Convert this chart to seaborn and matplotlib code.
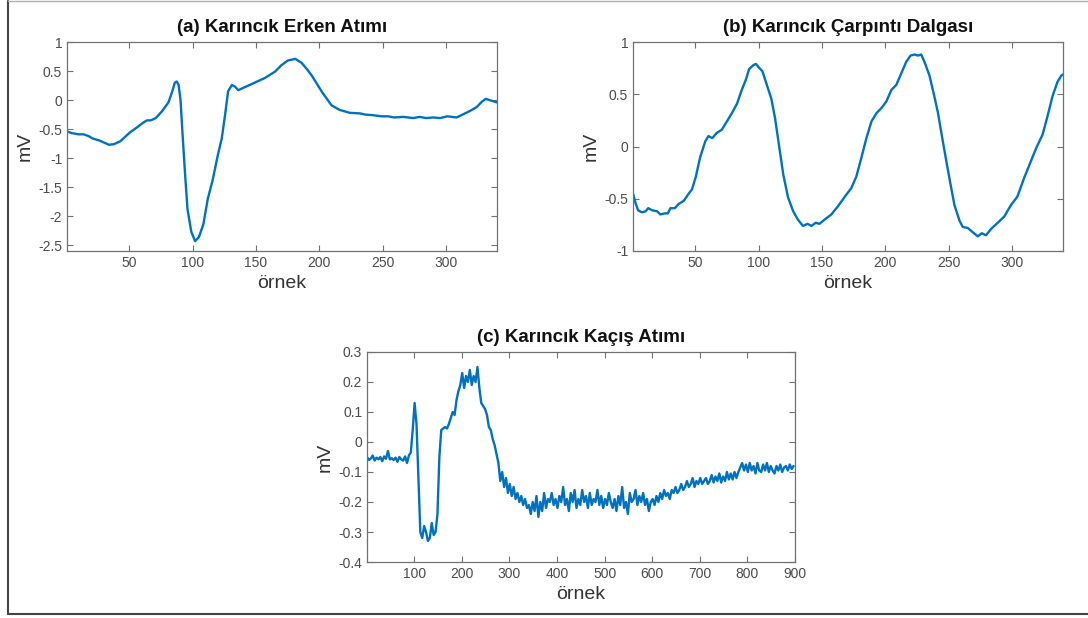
import numpy as np
import matplotlib
matplotlib.use('Agg')
import matplotlib.pyplot as plt
import seaborn as sns
from matplotlib.lines import Line2D
from matplotlib.ticker import FuncFormatter

# ---------------- data ----------------
titles = ["(a) Karıncık Erken Atımı", "(b) Karıncık Çarpıntı Dalgası", "(c) Karıncık Kaçış Atımı"]
x_label = "örnek"
y_label = "mV"

# (a) premature ventricular beat
xa = [1, 5, 10, 14, 18, 21, 27, 31, 34, 38, 43, 47, 51, 55, 61, 64, 67, 71, 76, 81,
      84, 86, 87.5, 89, 90.5, 92, 94, 96, 99, 102, 105, 108.5, 112, 115.6, 120, 123,
      125.6, 128, 131, 133.5, 136, 141, 149, 157, 165, 170, 175, 181, 186, 191, 194,
      202, 209.5, 216, 224, 232, 236, 242, 249, 254, 259, 266, 274, 279, 284, 290,
      295, 301, 308, 312, 318.5, 324, 328, 331, 334, 337, 340]
ya = [-0.54, -0.57, -0.59, -0.59, -0.62, -0.66, -0.70, -0.74, -0.77, -0.76, -0.71,
      -0.63, -0.55, -0.49, -0.39, -0.35, -0.35, -0.31, -0.19, -0.04,
      0.15, 0.30, 0.32, 0.26, 0.0, -0.55, -1.25, -1.88, -2.27, -2.43, -2.36, -2.14,
      -1.70, -1.40, -0.94, -0.66, -0.26, 0.15, 0.26, 0.23, 0.17, 0.22, 0.30, 0.38,
      0.49, 0.60, 0.68, 0.71, 0.64, 0.51, 0.42, 0.14, -0.09, -0.17, -0.22, -0.23,
      -0.25, -0.26, -0.28, -0.28, -0.30, -0.29, -0.31, -0.29, -0.31, -0.30, -0.31,
      -0.28, -0.30, -0.26, -0.19, -0.12, -0.03, 0.02, 0.0, -0.02, -0.04]

# (b) ventricular flutter
xb = [1, 3, 5, 8, 11, 13, 16, 20, 22.5, 26, 28.5, 30.5, 34, 37, 41, 45, 47.5, 50.5,
      54, 58, 60.5, 63.5, 67, 71, 75, 79, 83, 86.7, 90, 92.5, 96, 98, 100, 103, 106.5,
      110, 113, 116, 119.5, 123.3, 127.3, 131, 135, 138.6, 141.7, 145, 148, 152,
      157.4, 162.7, 168, 173, 177, 181, 185, 189, 193, 197, 200.7, 204.6, 208.6,
      212.5, 216.4, 219.8, 223, 225.6, 228.2, 230.8, 234.7, 238, 241.3, 244.4, 248,
      251.3, 254.4, 258.4, 261, 265, 268.8, 272.8, 276, 279.3, 283.2, 288.5, 293.7,
      299, 304, 309.4, 314.7, 319.4, 323.8, 327.8, 331.7, 335.7, 338.8, 340]
yb = [-0.45, -0.54, -0.61, -0.63, -0.62, -0.59, -0.61, -0.62, -0.65, -0.64, -0.64,
      -0.59, -0.59, -0.55, -0.52, -0.45, -0.41, -0.29, -0.10, 0.05, 0.10, 0.08, 0.13,
      0.16, 0.24, 0.32, 0.41, 0.54, 0.64, 0.74, 0.78, 0.79, 0.76, 0.72, 0.59, 0.46,
      0.27, 0.02, -0.27, -0.49, -0.62, -0.70, -0.76, -0.74, -0.76, -0.73, -0.74,
      -0.70, -0.65, -0.57, -0.48, -0.40, -0.29, -0.11, 0.08, 0.24, 0.32, 0.37, 0.43,
      0.54, 0.59, 0.70, 0.81, 0.87, 0.88, 0.87, 0.88, 0.81, 0.68, 0.51, 0.33, 0.11,
      -0.14, -0.36, -0.56, -0.71, -0.77, -0.78, -0.82, -0.86, -0.83, -0.85, -0.79,
      -0.73, -0.67, -0.56, -0.48, -0.30, -0.14, 0.00, 0.11, 0.29, 0.48, 0.62, 0.68,
      0.69]

# (c) ventricular escape beat (sample index every 4 samples)
xc = list(range(1, 901, 4))
yc = [
    # 1 .. 89
    -0.050, -0.060, -0.055, -0.045, -0.062, -0.052, -0.058, -0.050, -0.064, -0.048,
    -0.056, -0.030, -0.058, -0.054, -0.060, -0.052, -0.066, -0.050, -0.058, -0.062,
    -0.048, -0.070, -0.045,
    # 93 .. 301
    -0.035, 0.04, 0.13, 0.06, -0.12, -0.30, -0.32, -0.28, -0.30, -0.33,
    -0.32, -0.27, -0.31, -0.30, -0.24, -0.05, 0.04, 0.045, 0.05, 0.045,
    0.06, 0.08, 0.10, 0.09, 0.14, 0.17, 0.19, 0.23, 0.18, 0.22,
    0.20, 0.24, 0.19, 0.22, 0.20, 0.25, 0.18, 0.13, 0.12, 0.11,
    0.09, 0.05, 0.04, 0.01, -0.01, -0.04, -0.07, -0.13, -0.10, -0.15,
    -0.12, -0.17, -0.14,
    # 305 .. 597
    -0.18, -0.15, -0.19, -0.17, -0.20, -0.18, -0.21, -0.19, -0.22, -0.21,
    -0.24, -0.20, -0.23, -0.18, -0.25, -0.20, -0.23, -0.17, -0.22, -0.19,
    -0.20, -0.17, -0.21, -0.19, -0.22, -0.18, -0.20, -0.15, -0.21, -0.19,
    -0.23, -0.17, -0.20, -0.16, -0.22, -0.19, -0.21, -0.16, -0.20, -0.18,
    -0.22, -0.17, -0.21, -0.19, -0.20, -0.16, -0.21, -0.18, -0.22, -0.19,
    -0.21, -0.17, -0.20, -0.22, -0.19, -0.23, -0.18, -0.21, -0.15, -0.22,
    -0.20, -0.24, -0.17, -0.20, -0.19, -0.16, -0.21, -0.18, -0.20, -0.17,
    -0.21, -0.19, -0.23, -0.20,
    # 601 .. 717
    -0.19, -0.21, -0.18, -0.20, -0.17, -0.19, -0.16, -0.18, -0.17, -0.19,
    -0.16, -0.17, -0.15, -0.17, -0.16, -0.14, -0.16, -0.15, -0.13, -0.15,
    -0.14, -0.12, -0.15, -0.13, -0.14, -0.12, -0.14, -0.13, -0.12, -0.14,
    # 721 .. 897
    -0.13, -0.11, -0.135, -0.115, -0.13, -0.105, -0.135, -0.115, -0.13, -0.10,
    -0.125, -0.105, -0.125, -0.10, -0.12, -0.10, -0.085, -0.07, -0.095, -0.075,
    -0.10, -0.07, -0.095, -0.08, -0.105, -0.07, -0.095, -0.10, -0.075, -0.095,
    -0.07, -0.10, -0.08, -0.095, -0.105, -0.08, -0.095, -0.075, -0.10, -0.085,
    -0.08, -0.095, -0.075, -0.09, -0.08,
]
assert len(xc) == len(yc)

xticks_ab = [50, 100, 150, 200, 250, 300]
xticks_c = [100, 200, 300, 400, 500, 600, 700, 800, 900]
yticks_a = [-2.5, -2, -1.5, -1, -0.5, 0, 0.5, 1]
yticks_b = [-1, -0.5, 0, 0.5, 1]
yticks_c = [-0.4, -0.3, -0.2, -0.1, 0, 0.1, 0.2, 0.3]

# ---------------- style ----------------
sns.set_style('white')
plt.rcParams['font.family'] = ['Liberation Sans', 'DejaVu Sans']
plt.rcParams['axes.unicode_minus'] = False

LINE = '#0072BD'
W, H = 1088, 618
fig = plt.figure(figsize=(W / 100, H / 100), dpi=100)


def add_ax(l, t, r, b):
    return fig.add_axes([l / W, 1 - b / H, (r - l) / W, (b - t) / H])


def style(ax, title, xlim, ylim, xt, yt):
    ax.set_xlim(*xlim)
    ax.set_ylim(*ylim)
    ax.set_xticks(xt)
    ax.set_yticks(yt)
    ax.yaxis.set_major_formatter(FuncFormatter(lambda v, p: f'{v:g}'))
    ax.xaxis.set_major_formatter(FuncFormatter(lambda v, p: f'{v:g}'))
    for s in ax.spines.values():
        s.set_color('#707070')
        s.set_linewidth(0.9)
        s.set_visible(True)
    ax.tick_params(direction='in', length=4, width=0.8, colors='#707070',
                   labelcolor='#4a4a4a', labelsize=10,
                   top=True, right=True, bottom=True, left=True,
                   labeltop=False, labelright=False)
    ax.set_title(title, fontsize=13.5, fontweight='bold', color='#111111', pad=7)
    ax.set_xlabel(x_label, fontsize=14, color='#333333', labelpad=4)
    ax.set_ylabel(y_label, fontsize=14, color='#333333', labelpad=3)
    ax.grid(False)


ax_a = add_ax(67, 42, 497, 251)
sns.lineplot(x=xa, y=ya, ax=ax_a, color=LINE, linewidth=1.7, estimator=None, sort=False)
style(ax_a, titles[0], (1, 340), (-2.6, 1), xticks_ab, yticks_a)

ax_b = add_ax(633, 42, 1063, 251)
sns.lineplot(x=xb, y=yb, ax=ax_b, color=LINE, linewidth=1.7, estimator=None, sort=False)
style(ax_b, titles[1], (1, 340), (-1, 1), xticks_ab, yticks_b)

ax_c = add_ax(367, 352, 795, 562)
sns.lineplot(x=xc, y=yc, ax=ax_c, color=LINE, linewidth=1.7, estimator=None, sort=False)
style(ax_c, titles[2], (1, 900), (-0.4, 0.3), xticks_c, yticks_c)

# outer frame of the original figure
fig.add_artist(Line2D([8 / W, 8 / W], [1 - 1 / H, 1 - 614 / H], transform=fig.transFigure,
                      color='#444444', linewidth=1.5))
fig.add_artist(Line2D([8 / W, 1.0], [1 - 614 / H, 1 - 614 / H], transform=fig.transFigure,
                      color='#444444', linewidth=1.5))
fig.add_artist(Line2D([8 / W, 1.0], [1 - 1 / H, 1 - 1 / H], transform=fig.transFigure,
                      color='#b0b0b0', linewidth=1.0))

fig.savefig('out.png', dpi=100)
